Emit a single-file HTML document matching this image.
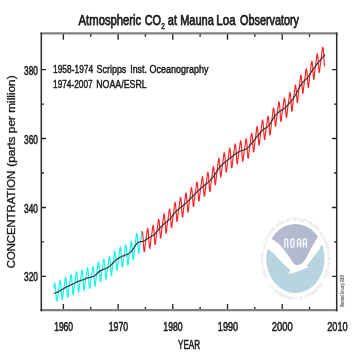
<!DOCTYPE html>
<html><head><meta charset="utf-8">
<style>
html,body{margin:0;padding:0;background:#fff;width:360px;height:360px;overflow:hidden}
svg{display:block;filter:blur(0.35px)}
text{font-family:"Liberation Sans",sans-serif;fill:#1e1e1e;stroke:#1e1e1e;stroke-width:0.35}
.lg text{fill:#c4c4c4;stroke:none}
</style></head><body>
<svg width="360" height="360" viewBox="0 0 360 360">
<rect width="360" height="360" fill="#fff"/>
<!-- title -->
<text x="78.61" y="24.70" font-size="13.8" textLength="62.59" lengthAdjust="spacingAndGlyphs" style="stroke-width:0.75">Atmospheric</text>
<text x="144.70" y="24.70" font-size="13.8" textLength="16.36" lengthAdjust="spacingAndGlyphs" style="stroke-width:0.75">CO</text>
<text x="161.16" y="28.90" font-size="8.6" textLength="3.56" lengthAdjust="spacingAndGlyphs" style="stroke-width:0.5">2</text>
<text x="167.80" y="24.70" font-size="13.8" textLength="9.21" lengthAdjust="spacingAndGlyphs" style="stroke-width:0.75">at</text>
<text x="180.20" y="24.70" font-size="13.8" textLength="33.65" lengthAdjust="spacingAndGlyphs" style="stroke-width:0.75">Mauna</text>
<text x="216.37" y="24.70" font-size="13.8" textLength="19.24" lengthAdjust="spacingAndGlyphs" style="stroke-width:0.75">Loa</text>
<text x="240.10" y="24.70" font-size="13.8" textLength="58.83" lengthAdjust="spacingAndGlyphs" style="stroke-width:0.75">Observatory</text>
<text x="53.04" y="73.40" font-size="11.4" textLength="40.14" lengthAdjust="spacingAndGlyphs" style="stroke-width:0.5">1958-1974</text>
<text x="96.50" y="73.40" font-size="11.4" textLength="29.83" lengthAdjust="spacingAndGlyphs" style="stroke-width:0.5">Scripps</text>
<text x="130.22" y="73.40" font-size="11.4" textLength="16.63" lengthAdjust="spacingAndGlyphs" style="stroke-width:0.5">Inst.</text>
<text x="149.50" y="73.40" font-size="11.4" textLength="58.89" lengthAdjust="spacingAndGlyphs" style="stroke-width:0.5">Oceanography</text>
<text x="53.05" y="88.40" font-size="11.4" textLength="39.62" lengthAdjust="spacingAndGlyphs" style="stroke-width:0.5">1974-2007</text>
<text x="96.22" y="88.40" font-size="11.4" textLength="50.55" lengthAdjust="spacingAndGlyphs" style="stroke-width:0.5">NOAA/ESRL</text>
<text x="178.06" y="348.60" font-size="12.3" textLength="22.02" lengthAdjust="spacingAndGlyphs" style="stroke-width:0.6">YEAR</text>
<text x="54.17" y="331.00" font-size="12.3" textLength="18.89" lengthAdjust="spacingAndGlyphs" style="stroke-width:0.6">1960</text>
<text x="108.76" y="331.00" font-size="12.3" textLength="19.31" lengthAdjust="spacingAndGlyphs" style="stroke-width:0.6">1970</text>
<text x="163.31" y="331.00" font-size="12.3" textLength="19.36" lengthAdjust="spacingAndGlyphs" style="stroke-width:0.6">1980</text>
<text x="217.84" y="331.00" font-size="12.3" textLength="20.24" lengthAdjust="spacingAndGlyphs" style="stroke-width:0.6">1990</text>
<text x="271.81" y="331.00" font-size="12.3" textLength="20.86" lengthAdjust="spacingAndGlyphs" style="stroke-width:0.6">2000</text>
<text x="327.22" y="331.00" font-size="12.3" textLength="20.46" lengthAdjust="spacingAndGlyphs" style="stroke-width:0.6">2010</text>
<text x="24.12" y="75.10" font-size="12.3" textLength="13.89" lengthAdjust="spacingAndGlyphs" style="stroke-width:0.6">380</text>
<text x="24.12" y="144.00" font-size="12.3" textLength="13.89" lengthAdjust="spacingAndGlyphs" style="stroke-width:0.6">360</text>
<text x="24.12" y="212.80" font-size="12.3" textLength="13.89" lengthAdjust="spacingAndGlyphs" style="stroke-width:0.6">340</text>
<text x="24.12" y="281.20" font-size="12.3" textLength="13.89" lengthAdjust="spacingAndGlyphs" style="stroke-width:0.6">320</text>
<!-- logo -->
<g class="lg">
<defs>
<path id="rtop" d="M -32.9 19 A 38 38 0 1 1 32.9 19"/>
<path id="rbot" d="M -36 17 A 39.8 39.8 0 0 0 36 17"/>
<clipPath id="lc"><ellipse cx="295.4" cy="258.5" rx="29.2" ry="34.6"/></clipPath>
</defs>
<g transform="translate(295.4,258.6) scale(0.845,1)" style="fill:#d4d4d4">
<text font-size="4.6" textLength="158" lengthAdjust="spacingAndGlyphs" style="fill:#d6d6d6"><textPath href="#rtop" startOffset="50%" text-anchor="middle">NATIONAL OCEANIC AND ATMOSPHERIC ADMINISTRATION</textPath></text>
<text font-size="4.6" textLength="72" lengthAdjust="spacing" dy="1.6" style="fill:#d6d6d6"><textPath href="#rbot" startOffset="50%" text-anchor="middle">U.S. DEPARTMENT OF COMMERCE</textPath></text>
</g>
<ellipse cx="295.4" cy="258.5" rx="29.2" ry="34.6" fill="#fff"/>
<g clip-path="url(#lc)">
<path d="M262.00 235.00C263.42 235.58 267.75 237.08 270.50 238.50C273.25 239.92 276.17 241.50 278.50 243.50C280.83 245.50 282.67 248.17 284.50 250.50C286.33 252.83 288.00 255.42 289.50 257.50C291.00 259.58 292.25 261.70 293.50 263.00C294.75 264.30 295.83 265.10 297.00 265.30C298.17 265.50 299.22 265.00 300.50 264.20C301.78 263.40 303.32 262.37 304.70 260.50C306.08 258.63 307.38 255.67 308.80 253.00C310.22 250.33 311.62 247.25 313.20 244.50C314.78 241.75 316.17 239.08 318.30 236.50C320.43 233.92 324.72 230.25 326.00 229.00L332 200L258 200L258 235Z" fill="#b3b9cf"/>
<path d="M332 300L332 236C330.50 237.17 325.23 240.58 323.00 243.00C320.77 245.42 320.27 248.08 318.60 250.50C316.93 252.92 314.68 255.33 313.00 257.50C311.32 259.67 309.58 262.12 308.50 263.50C307.42 264.88 306.83 265.42 306.50 265.80L308.8 266.8C307.83 267.25 305.13 268.63 303.00 269.50C300.87 270.37 298.50 271.25 296.00 272.00C293.50 272.75 289.33 273.67 288.00 274.00C288.42 273.47 290.58 271.88 290.50 270.80C290.42 269.72 288.75 268.72 287.50 267.50C286.25 266.28 284.50 265.00 283.00 263.50C281.50 262.00 280.33 260.42 278.50 258.50C276.67 256.58 274.03 253.67 272.00 252.00C269.97 250.33 268.63 249.50 266.30 248.50C263.97 247.50 259.38 246.42 258.00 246.00L258 300Z" fill="#b8d5df"/>
</g>
<path d="M284.75 247.5V240.50Q284.75 239.0 286.25 239.0Q287.75 239.0 287.75 240.50V247.5M290.95 240.5Q290.95 239 292.45 239Q293.95 239 293.95 240.5V245.7Q293.95 247.2 292.45 247.2Q290.95 247.2 290.95 245.7ZM297.55 247.5V240.50Q297.55 239.0 299.05 239.0Q300.55 239.0 300.55 240.50V247.5M297.55 243.8H300.55M303.35 247.5V240.50Q303.35 239.0 304.85 239.0Q306.35 239.0 306.35 240.50V247.5M303.35 243.8H306.35" fill="none" stroke="#f4f6fa" stroke-width="1.5"/>
</g>
<!-- data -->
<polyline fill="none" stroke="#18f4ee" stroke-width="1.2" stroke-linejoin="round" points="53.76,288.54 54.22,284.66 54.68,282.83 55.13,284.77 55.59,289.80 56.04,296.08 56.50,300.68 56.95,300.89 57.41,297.57 57.87,294.68 58.32,291.98 58.78,289.39 59.23,286.39 59.69,282.34 60.15,280.35 60.60,282.15 61.06,287.05 61.51,293.89 61.97,299.33 62.42,299.50 62.88,295.49 63.34,292.03 63.79,288.81 64.25,286.15 64.70,283.12 65.16,279.07 65.62,277.10 66.07,278.92 66.53,283.86 66.98,291.22 67.44,297.21 67.89,297.35 68.35,293.01 68.81,289.36 69.26,286.06 69.72,283.44 70.17,280.48 70.63,276.49 71.09,274.55 71.54,276.40 72.00,281.35 72.45,288.70 72.91,294.66 73.36,294.76 73.82,290.38 74.28,286.68 74.73,283.34 75.19,280.68 75.64,277.69 76.10,273.67 76.56,271.73 77.01,273.60 77.47,278.58 77.92,285.98 78.38,292.02 78.83,292.21 79.29,287.93 79.75,284.34 80.20,281.09 80.66,278.54 81.11,275.64 81.57,271.70 82.03,269.82 82.48,271.72 82.94,276.72 83.39,284.12 83.85,290.12 84.30,290.27 84.76,285.93 85.22,282.28 85.67,278.98 86.13,276.38 86.58,273.44 87.04,269.48 87.50,267.60 87.95,269.53 88.41,274.58 88.86,282.07 89.32,288.19 89.77,288.46 90.23,284.25 90.69,280.72 91.14,277.53 91.60,275.02 92.05,272.14 92.51,268.20 92.97,266.30 93.42,268.14 93.88,273.05 94.33,280.33 94.79,286.19 95.24,286.16 95.70,281.63 96.16,277.77 96.61,274.24 97.07,271.40 97.52,268.22 97.98,264.01 98.44,261.89 98.89,263.58 99.35,268.40 99.80,275.67 100.26,281.58 100.71,281.67 101.17,277.29 101.63,273.62 102.08,270.31 102.54,267.71 102.99,264.77 103.45,260.80 103.91,258.90 104.36,260.80 104.82,265.79 105.27,273.20 105.73,279.21 106.18,279.36 106.64,275.01 107.10,271.34 107.55,268.00 108.01,265.33 108.46,262.29 108.92,258.20 109.38,256.15 109.83,257.87 110.29,262.65 110.74,269.83 111.20,275.60 111.65,275.49 112.11,270.89 112.57,266.97 113.02,263.39 113.48,260.50 113.93,257.26 114.39,253.00 114.85,250.82 115.30,252.45 115.76,257.20 116.21,264.38 116.67,270.21 117.12,270.20 117.58,265.73 118.04,261.97 118.49,258.57 118.95,255.88 119.40,252.85 119.86,248.81 120.32,246.85 120.77,248.69 121.23,253.64 121.68,261.02 122.14,267.03 122.59,267.18 123.05,262.86 123.51,259.24 123.96,255.96 124.42,253.37 124.87,250.44 125.33,246.47 125.79,244.58 126.24,246.46 126.70,251.45 127.15,258.84 127.61,264.84 128.06,264.97 128.52,260.59 128.98,256.88 129.43,253.48 129.89,250.73 130.34,247.60 130.80,243.40 131.26,241.21 131.71,242.76 132.17,247.35 132.62,254.31 133.08,259.84 133.53,259.49 133.99,254.63 134.45,250.46 134.90,246.65 135.36,243.54 135.81,240.12 136.27,235.71 136.73,233.43 137.18,235.01 137.64,239.77 138.09,247.02 138.55,252.97 139.00,253.12 139.46,248.84 139.92,245.28 140.37,242.10 140.83,239.63 141.28,236.82 141.74,232.97 142.20,231.17"/>
<polyline fill="none" stroke="#ff2222" stroke-width="1.15" stroke-linejoin="round" points="142.20,231.17 142.65,233.13 143.11,238.16 143.56,245.57 144.02,251.56 144.47,251.66 144.93,247.26 145.39,243.53 145.84,240.13 146.30,237.41 146.75,234.34 147.21,230.24 147.67,228.22 148.12,230.00 148.58,234.90 149.03,242.23 149.49,248.20 149.94,248.31 150.40,243.95 150.86,240.27 151.31,236.93 151.77,234.27 152.22,231.25 152.68,227.17 153.14,225.13 153.59,226.85 154.05,231.63 154.50,238.79 154.96,244.54 155.41,244.40 155.87,239.75 156.33,235.78 156.78,232.13 157.24,229.17 157.69,225.85 158.15,221.51 158.61,219.23 159.06,220.76 159.52,225.40 159.97,232.46 160.43,238.17 160.88,238.03 161.34,233.42 161.80,229.52 162.25,225.97 162.71,223.12 163.16,219.94 163.62,215.73 164.08,213.60 164.53,215.27 164.99,220.05 165.44,227.25 165.90,233.07 166.35,233.03 166.81,228.51 167.27,224.68 167.72,221.18 168.18,218.36 168.63,215.18 169.09,210.95 169.55,208.77 170.00,210.36 170.46,215.03 170.91,222.09 171.37,227.75 171.82,227.54 172.28,222.83 172.74,218.81 173.19,215.14 173.65,212.15 174.10,208.83 174.56,204.49 175.02,202.23 175.47,203.78 175.93,208.46 176.38,215.58 176.84,221.34 177.29,221.26 177.75,216.72 178.21,212.89 178.66,209.41 179.12,206.63 179.57,203.52 180.03,199.37 180.49,197.30 180.94,199.02 181.40,203.84 181.85,211.06 182.31,216.91 182.76,216.89 183.22,212.38 183.68,208.56 184.13,205.07 184.59,202.27 185.04,199.12 185.50,194.92 185.96,192.79 186.41,194.44 186.87,199.18 187.32,206.33 187.78,212.09 188.23,211.98 188.69,207.39 189.15,203.48 189.60,199.92 190.06,197.03 190.51,193.81 190.97,189.54 191.43,187.35 191.88,188.95 192.34,193.65 192.79,200.76 193.25,206.50 193.70,206.38 194.16,201.78 194.62,197.87 195.07,194.31 195.53,191.44 195.98,188.22 196.44,183.98 196.90,181.80 197.35,183.42 197.81,188.14 198.26,195.28 198.72,201.04 199.17,200.95 199.63,196.38 200.09,192.50 200.54,188.97 201.00,186.14 201.45,182.97 201.91,178.77 202.37,176.65 202.82,178.32 203.28,183.11 203.73,190.31 204.19,196.15 204.64,196.13 205.10,191.63 205.56,187.82 206.01,184.35 206.47,181.58 206.92,178.45 207.38,174.28 207.84,172.17 208.29,173.85 208.75,178.61 209.20,185.78 209.66,191.55 210.11,191.45 210.57,186.85 211.03,182.92 211.48,179.32 211.94,176.39 212.39,173.09 212.85,168.73 213.31,166.42 213.76,167.87 214.22,172.39 214.67,179.30 215.13,184.82 215.58,184.46 216.04,179.61 216.50,175.45 216.95,171.63 217.41,168.51 217.86,165.05 218.32,160.58 218.78,158.20 219.23,159.65 219.69,164.22 220.14,171.25 220.60,176.92 221.05,176.77 221.51,172.16 221.97,168.27 222.42,164.74 222.88,161.92 223.33,158.76 223.79,154.59 224.25,152.49 224.70,154.19 225.16,158.99 225.61,166.20 226.07,172.04 226.52,172.02 226.98,167.52 227.44,163.71 227.89,160.25 228.35,157.47 228.80,154.35 229.26,150.19 229.72,148.11 230.17,149.81 230.63,154.61 231.08,161.83 231.54,167.66 231.99,167.64 232.45,163.14 232.91,159.34 233.36,155.88 233.82,153.12 234.27,150.01 234.73,145.88 235.19,143.83 235.64,145.58 236.10,150.44 236.55,157.72 237.01,163.63 237.46,163.69 237.92,159.29 238.38,155.59 238.83,152.24 239.29,149.60 239.74,146.62 240.20,142.63 240.66,140.71 241.11,142.61 241.57,147.62 242.02,155.05 242.48,161.11 242.93,161.32 243.39,157.05 243.85,153.45 244.30,150.19 244.76,147.61 245.21,144.65 245.67,140.64 246.13,138.66 246.58,140.44 247.04,145.28 247.49,152.50 247.95,158.29 248.40,158.20 248.86,153.59 249.32,149.64 249.77,146.02 250.23,143.07 250.68,139.76 251.14,135.41 251.60,133.11 252.05,134.61 252.51,139.21 252.96,146.22 253.42,151.85 253.87,151.63 254.33,146.92 254.79,142.91 255.24,139.24 255.70,136.26 256.15,132.93 256.61,128.57 257.07,126.27 257.52,127.75 257.98,132.34 258.43,139.34 258.89,144.96 259.34,144.72 259.80,140.02 260.26,136.02 260.71,132.38 261.17,129.45 261.62,126.20 262.08,121.95 262.54,119.79 262.99,121.47 263.45,126.29 263.90,133.57 264.36,139.49 264.81,139.57 265.27,135.18 265.73,131.48 266.18,128.11 266.64,125.42 267.09,122.35 267.55,118.20 268.01,116.08 268.46,117.69 268.92,122.33 269.37,129.32 269.83,134.87 270.28,134.51 270.74,129.64 271.20,125.42 271.65,121.54 272.11,118.33 272.56,114.79 273.02,110.22 273.48,107.74 273.93,109.09 274.39,113.58 274.84,120.54 275.30,126.16 275.75,125.95 276.21,121.31 276.67,117.39 277.12,113.85 277.58,111.02 278.03,107.88 278.49,103.72 278.95,101.65 279.40,103.39 279.86,108.25 280.31,115.52 280.77,121.43 281.22,121.48 281.68,117.05 282.14,113.31 282.59,109.91 283.05,107.19 283.50,104.12 283.96,100.00 284.42,97.93 284.87,99.63 285.33,104.41 285.78,111.59 286.24,117.36 286.69,117.26 287.15,112.66 287.61,108.73 288.06,105.13 288.52,102.20 288.97,98.92 289.43,94.60 289.89,92.34 290.34,93.86 290.80,98.47 291.25,105.50 291.71,111.13 292.16,110.90 292.62,106.17 293.08,102.11 293.53,98.38 293.99,95.32 294.44,91.88 294.90,87.39 295.36,84.93 295.81,86.22 296.27,90.59 296.72,97.33 297.18,102.67 297.63,102.14 298.09,97.11 298.55,92.77 299.00,88.79 299.46,85.51 299.91,81.91 300.37,77.31 300.83,74.82 301.28,76.17 301.74,80.68 302.19,87.66 302.65,93.30 303.10,93.13 303.56,88.51 304.02,84.61 304.47,81.06 304.93,78.21 305.38,75.02 305.84,70.78 306.30,68.59 306.75,70.16 307.21,74.80 307.66,81.82 308.12,87.43 308.57,87.15 309.03,82.36 309.49,78.25 309.94,74.46 310.40,71.36 310.85,67.91 311.31,63.42 311.77,61.00 312.22,62.38 312.68,66.88 313.13,73.80 313.59,79.36 314.04,79.08 314.50,74.32 314.96,70.27 315.41,66.57 315.87,63.57 316.32,60.23 316.78,55.86 317.24,53.58 317.69,55.08 318.15,59.70 318.60,66.73 319.06,72.39 319.51,72.19 319.97,67.51 320.43,63.52 320.88,59.88 321.34,56.93 321.79,53.63 322.25,49.30 322.71,47.04 323.16,48.56 323.62,53.19 324.07,60.22 324.53,65.87 324.98,65.66"/>
<polyline fill="none" stroke="#333" stroke-width="1.2" stroke-linejoin="round" points="53.76,293.34 54.22,293.25 54.68,293.14 55.13,293.02 55.59,292.87 56.04,292.71 56.50,292.53 56.95,292.33 57.41,292.12 57.87,291.90 58.32,291.67 58.78,291.43 59.23,291.18 59.69,290.93 60.15,290.66 60.60,290.39 61.06,290.12 61.51,289.84 61.97,289.56 62.42,289.28 62.88,289.01 63.34,288.73 63.79,288.46 64.25,288.19 64.70,287.92 65.16,287.66 65.62,287.41 66.07,287.17 66.53,286.94 66.98,286.71 67.44,286.50 67.89,286.29 68.35,286.08 68.81,285.88 69.26,285.68 69.72,285.48 70.17,285.28 70.63,285.07 71.09,284.86 71.54,284.65 72.00,284.42 72.45,284.19 72.91,283.95 73.36,283.70 73.82,283.45 74.28,283.21 74.73,282.96 75.19,282.72 75.64,282.49 76.10,282.26 76.56,282.04 77.01,281.84 77.47,281.65 77.92,281.47 78.38,281.31 78.83,281.15 79.29,281.00 79.75,280.86 80.20,280.72 80.66,280.58 81.11,280.43 81.57,280.29 82.03,280.13 82.48,279.97 82.94,279.79 83.39,279.61 83.85,279.41 84.30,279.21 84.76,279.01 85.22,278.81 85.67,278.61 86.13,278.42 86.58,278.23 87.04,278.06 87.50,277.91 87.95,277.77 88.41,277.65 88.86,277.56 89.32,277.47 89.77,277.40 90.23,277.32 90.69,277.25 91.14,277.16 91.60,277.06 92.05,276.94 92.51,276.79 92.97,276.61 93.42,276.39 93.88,276.12 94.33,275.82 94.79,275.47 95.24,275.10 95.70,274.70 96.16,274.29 96.61,273.87 97.07,273.44 97.52,273.01 97.98,272.60 98.44,272.20 98.89,271.82 99.35,271.47 99.80,271.16 100.26,270.87 100.71,270.61 101.17,270.37 101.63,270.15 102.08,269.94 102.54,269.75 102.99,269.57 103.45,269.39 103.91,269.22 104.36,269.04 104.82,268.87 105.27,268.69 105.73,268.50 106.18,268.30 106.64,268.09 107.10,267.86 107.55,267.62 108.01,267.37 108.46,267.09 108.92,266.79 109.38,266.46 109.83,266.11 110.29,265.73 110.74,265.32 111.20,264.89 111.65,264.44 112.11,263.97 112.57,263.50 113.02,263.02 113.48,262.53 113.93,262.06 114.39,261.59 114.85,261.13 115.30,260.69 115.76,260.27 116.21,259.87 116.67,259.50 117.12,259.14 117.58,258.81 118.04,258.49 118.49,258.20 118.95,257.91 119.40,257.65 119.86,257.40 120.32,257.16 120.77,256.93 121.23,256.72 121.68,256.51 122.14,256.31 122.59,256.12 123.05,255.94 123.51,255.76 123.96,255.58 124.42,255.41 124.87,255.24 125.33,255.06 125.79,254.89 126.24,254.71 126.70,254.52 127.15,254.33 127.61,254.13 128.06,253.91 128.52,253.67 128.98,253.40 129.43,253.10 129.89,252.77 130.34,252.40 130.80,251.98 131.26,251.52 131.71,251.00 132.17,250.43 132.62,249.80 133.08,249.13 133.53,248.43 133.99,247.71 134.45,246.99 134.90,246.27 135.36,245.58 135.81,244.92 136.27,244.30 136.73,243.74 137.18,243.25 137.64,242.84 138.09,242.51 138.55,242.26 139.00,242.06 139.46,241.92 139.92,241.81 140.37,241.73 140.83,241.67 141.28,241.61 141.74,241.55 142.20,241.48 142.65,241.38 143.11,241.24 143.56,241.06 144.02,240.85 144.47,240.61 144.93,240.34 145.39,240.05 145.84,239.76 146.30,239.45 146.75,239.14 147.21,238.83 147.67,238.53 148.12,238.24 148.58,237.97 149.03,237.72 149.49,237.48 149.94,237.25 150.40,237.03 150.86,236.80 151.31,236.56 151.77,236.31 152.22,236.04 152.68,235.76 153.14,235.44 153.59,235.09 154.05,234.70 154.50,234.28 154.96,233.82 155.41,233.34 155.87,232.83 156.33,232.30 156.78,231.76 157.24,231.21 157.69,230.65 158.15,230.09 158.61,229.54 159.06,229.00 159.52,228.47 159.97,227.96 160.43,227.46 160.88,226.97 161.34,226.50 161.80,226.04 162.25,225.60 162.71,225.16 163.16,224.74 163.62,224.32 164.08,223.92 164.53,223.52 164.99,223.13 165.44,222.74 165.90,222.36 166.35,221.98 166.81,221.59 167.27,221.20 167.72,220.80 168.18,220.40 168.63,219.98 169.09,219.54 169.55,219.08 170.00,218.61 170.46,218.10 170.91,217.58 171.37,217.04 171.82,216.48 172.28,215.91 172.74,215.34 173.19,214.76 173.65,214.19 174.10,213.63 174.56,213.08 175.02,212.54 175.47,212.02 175.93,211.53 176.38,211.07 176.84,210.62 177.29,210.20 177.75,209.80 178.21,209.41 178.66,209.04 179.12,208.67 179.57,208.31 180.03,207.96 180.49,207.61 180.94,207.26 181.40,206.91 181.85,206.55 182.31,206.19 182.76,205.83 183.22,205.46 183.68,205.08 184.13,204.70 184.59,204.31 185.04,203.91 185.50,203.51 185.96,203.10 186.41,202.68 186.87,202.25 187.32,201.82 187.78,201.37 188.23,200.92 188.69,200.47 189.15,200.01 189.60,199.54 190.06,199.07 190.51,198.60 190.97,198.13 191.43,197.66 191.88,197.19 192.34,196.72 192.79,196.25 193.25,195.78 193.70,195.32 194.16,194.85 194.62,194.39 195.07,193.93 195.53,193.47 195.98,193.02 196.44,192.56 196.90,192.11 197.35,191.66 197.81,191.22 198.26,190.77 198.72,190.33 199.17,189.89 199.63,189.45 200.09,189.02 200.54,188.60 201.00,188.18 201.45,187.76 201.91,187.36 202.37,186.96 202.82,186.57 203.28,186.18 203.73,185.81 204.19,185.44 204.64,185.07 205.10,184.71 205.56,184.34 206.01,183.98 206.47,183.62 206.92,183.25 207.38,182.87 207.84,182.49 208.29,182.09 208.75,181.69 209.20,181.27 209.66,180.84 210.11,180.39 210.57,179.93 211.03,179.45 211.48,178.95 211.94,178.43 212.39,177.88 212.85,177.32 213.31,176.73 213.76,176.11 214.22,175.47 214.67,174.80 215.13,174.11 215.58,173.40 216.04,172.69 216.50,171.97 216.95,171.26 217.41,170.55 217.86,169.85 218.32,169.17 218.78,168.52 219.23,167.89 219.69,167.30 220.14,166.74 220.60,166.21 221.05,165.71 221.51,165.24 221.97,164.79 222.42,164.37 222.88,163.96 223.33,163.56 223.79,163.18 224.25,162.80 224.70,162.43 225.16,162.06 225.61,161.70 226.07,161.33 226.52,160.97 226.98,160.60 227.44,160.24 227.89,159.87 228.35,159.51 228.80,159.15 229.26,158.78 229.72,158.42 230.17,158.05 230.63,157.68 231.08,157.32 231.54,156.95 231.99,156.59 232.45,156.22 232.91,155.86 233.36,155.51 233.82,155.16 234.27,154.81 234.73,154.47 235.19,154.14 235.64,153.82 236.10,153.51 236.55,153.21 237.01,152.92 237.46,152.64 237.92,152.37 238.38,152.11 238.83,151.87 239.29,151.64 239.74,151.42 240.20,151.22 240.66,151.03 241.11,150.85 241.57,150.69 242.02,150.54 242.48,150.40 242.93,150.26 243.39,150.12 243.85,149.98 244.30,149.82 244.76,149.65 245.21,149.45 245.67,149.23 246.13,148.98 246.58,148.69 247.04,148.36 247.49,147.99 247.95,147.58 248.40,147.14 248.86,146.67 249.32,146.17 249.77,145.65 250.23,145.11 250.68,144.56 251.14,144.00 251.60,143.43 252.05,142.85 252.51,142.28 252.96,141.71 253.42,141.14 253.87,140.57 254.33,140.00 254.79,139.44 255.24,138.87 255.70,138.30 256.15,137.73 256.61,137.15 257.07,136.58 257.52,136.00 257.98,135.41 258.43,134.83 258.89,134.24 259.34,133.66 259.80,133.10 260.26,132.54 260.71,132.00 261.17,131.49 261.62,131.00 262.08,130.53 262.54,130.11 262.99,129.72 263.45,129.37 263.90,129.06 264.36,128.77 264.81,128.51 265.27,128.26 265.73,128.00 266.18,127.74 266.64,127.46 267.09,127.14 267.55,126.79 268.01,126.39 268.46,125.93 268.92,125.40 269.37,124.81 269.83,124.15 270.28,123.45 270.74,122.71 271.20,121.95 271.65,121.16 272.11,120.37 272.56,119.58 273.02,118.81 273.48,118.05 273.93,117.33 274.39,116.66 274.84,116.03 275.30,115.44 275.75,114.90 276.21,114.39 276.67,113.92 277.12,113.47 277.58,113.06 278.03,112.67 278.49,112.31 278.95,111.96 279.40,111.63 279.86,111.32 280.31,111.01 280.77,110.71 281.22,110.42 281.68,110.13 282.14,109.83 282.59,109.53 283.05,109.23 283.50,108.91 283.96,108.58 284.42,108.24 284.87,107.87 285.33,107.49 285.78,107.08 286.24,106.65 286.69,106.20 287.15,105.73 287.61,105.25 288.06,104.75 288.52,104.24 288.97,103.72 289.43,103.19 289.89,102.65 290.34,102.10 290.80,101.55 291.25,100.99 291.71,100.42 292.16,99.84 292.62,99.25 293.08,98.64 293.53,98.01 293.99,97.36 294.44,96.68 294.90,95.97 295.36,95.24 295.81,94.47 296.27,93.66 296.72,92.82 297.18,91.96 297.63,91.08 298.09,90.19 298.55,89.30 299.00,88.42 299.46,87.55 299.91,86.71 300.37,85.90 300.83,85.13 301.28,84.41 301.74,83.75 302.19,83.15 302.65,82.59 303.10,82.08 303.56,81.59 304.02,81.13 304.47,80.69 304.93,80.25 305.38,79.81 305.84,79.36 306.30,78.90 306.75,78.41 307.21,77.88 307.66,77.31 308.12,76.71 308.57,76.09 309.03,75.44 309.49,74.77 309.94,74.09 310.40,73.40 310.85,72.70 311.31,72.00 311.77,71.31 312.22,70.63 312.68,69.95 313.13,69.29 313.59,68.65 314.04,68.02 314.50,67.40 314.96,66.79 315.41,66.19 315.87,65.61 316.32,65.03 316.78,64.45 317.24,63.89 317.69,63.33 318.15,62.77 318.60,62.22 319.06,61.67 319.51,61.13 319.97,60.59 320.43,60.05 320.88,59.51 321.34,58.97 321.79,58.43 322.25,57.89 322.71,57.35 323.16,56.81 323.62,56.26 324.07,55.71 324.53,55.16 324.98,54.60"/>
<!-- axes -->
<g stroke="#222" stroke-width="1.35" fill="none"><path d="M63.40 310.30V304.00M63.40 33.40V39.70M90.75 310.30V307.00M90.75 33.40V36.70M118.10 310.30V304.00M118.10 33.40V39.70M145.45 310.30V307.00M145.45 33.40V36.70M172.80 310.30V304.00M172.80 33.40V39.70M200.15 310.30V307.00M200.15 33.40V36.70M227.50 310.30V304.00M227.50 33.40V39.70M254.85 310.30V307.00M254.85 33.40V36.70M282.20 310.30V304.00M282.20 33.40V39.70M309.55 310.30V307.00M309.55 33.40V36.70M41.30 276.40H45.90M336.70 276.40H332.10M41.30 241.93H43.90M336.70 241.93H334.10M41.30 207.47H45.90M336.70 207.47H332.10M41.30 173.00H43.90M336.70 173.00H334.10M41.30 138.53H45.90M336.70 138.53H332.10M41.30 104.06H43.90M336.70 104.06H334.10M41.30 69.60H45.90M336.70 69.60H332.10"/></g>
<path d="M40.5 33.4H337.6M40.5 310.2H337.6" fill="none" stroke="#808080" stroke-width="2.3"/>
<path d="M41.3 32.5V311.2M336.7 32.5V311.2" fill="none" stroke="#2a2a2a" stroke-width="1.5"/>
<!-- tick labels -->


<g transform="translate(14.6,0) rotate(-90)" style="stroke-width:0.3">
<text x="-268.2" y="0" font-size="10.0" textLength="97.4" lengthAdjust="spacingAndGlyphs">CONCENTRATION</text>
<text x="-166.7" y="0" font-size="10.0" textLength="91.3" lengthAdjust="spacingAndGlyphs">(parts per million)</text>
</g>
<g transform="translate(343.5,291) rotate(-90)">
<text x="0" y="0" font-size="4.6" text-anchor="middle" textLength="32" lengthAdjust="spacingAndGlyphs" style="fill:#666;stroke:#666;stroke-width:0.2">Revised January 2007</text>
</g>
</svg>
</body></html>
